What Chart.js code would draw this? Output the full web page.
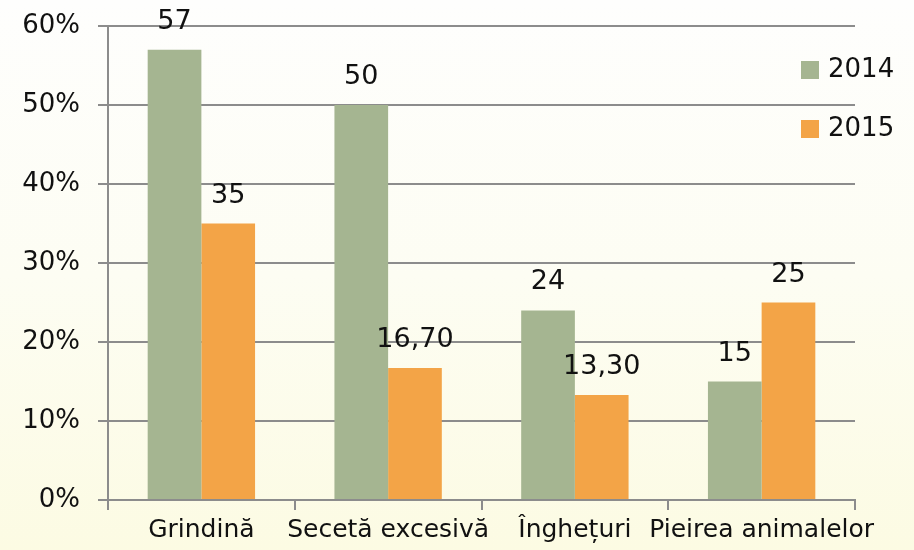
<!DOCTYPE html>
<html>
<head>
<meta charset="utf-8">
<script src="https://cdn.jsdelivr.net/npm/chart.js@4"></script>
<style>
  html, body { margin: 0; padding: 0; }
  body {
    width: 914px; height: 550px; overflow: hidden;
    background: linear-gradient(to bottom, #fefefd 0%, #fdfdf3 50%, #fcfbe3 100%);
  }
  #wrap { position: relative; width: 914px; height: 550px; }
</style>
</head>
<body>
<div id="wrap"><canvas id="riskChart"></canvas></div>
<script>
var categories = ["Grindină", "Secetă excesivă", "Înghețuri", "Pieirea animalelor"];
var values2014 = [57, 50, 24, 15];
var values2015 = [35, 16.7, 13.3, 25];
var labels2014 = ["57", "50", "24", "15"];
var labels2015 = ["35", "16,70", "13,30", "25"];
var seriesNames = ["2014", "2015"];
var yTicks = [0, 10, 20, 30, 40, 50, 60];

var fontFamily = "'DejaVu Sans', sans-serif";
var gridColor = "#8c8c8c";
var colors = ["#a5b591", "#f3a447"];

// value labels above the bars
var barLabels = {
    id: "barLabels",
    afterDatasetsDraw: function (chart) {
        var ctx = chart.ctx;
        var texts = [labels2014, labels2015];
        ctx.save();
        ctx.font = "27px " + fontFamily;
        ctx.fillStyle = "#111";
        ctx.textAlign = "center";
        ctx.textBaseline = "alphabetic";
        chart.data.datasets.forEach(function (ds, di) {
            var meta = chart.getDatasetMeta(di);
            meta.data.forEach(function (bar, i) {
                ctx.fillText(texts[di][i], bar.x, bar.y - 21);
            });
        });
        ctx.restore();
    }
};

// legend on the right side, over the plot
var sideLegend = {
    id: "sideLegend",
    afterDraw: function (chart) {
        var ctx = chart.ctx;
        ctx.save();
        ctx.font = "26px " + fontFamily;
        ctx.textBaseline = "middle";
        ctx.textAlign = "left";
        seriesNames.forEach(function (name, i) {
            var y = 61 + i * 59;
            ctx.fillStyle = colors[i];
            ctx.fillRect(801, y, 18, 18);
            ctx.fillStyle = "#111";
            ctx.fillText(name, 828, y + 9);
        });
        ctx.restore();
    }
};

var data = {
    labels: categories,
    datasets: [
        {
            label: seriesNames[0],
            data: values2014,
            backgroundColor: colors[0],
            barPercentage: 1,
            categoryPercentage: 0.575
        },
        {
            label: seriesNames[1],
            data: values2015,
            backgroundColor: colors[1],
            barPercentage: 1,
            categoryPercentage: 0.575
        }
    ]
};

var options = {
    responsive: false,
    animation: false,
    layout: { padding: { top: 26, right: 59, left: 0, bottom: 0 } },
    plugins: {
        legend: { display: false },
        tooltip: { enabled: false }
    },
    scales: {
        x: {
            grid: {
                display: true,
                drawOnChartArea: false,
                drawTicks: true,
                tickLength: 10,
                color: gridColor,
                lineWidth: 2
            },
            border: { display: true, color: gridColor, width: 2 },
            ticks: {
                color: "#111",
                font: { family: fontFamily, size: 25 },
                padding: 5,
                maxRotation: 0,
                autoSkip: false
            },
            afterFit: function (scale) {
                scale.height = 50;
                scale.paddingLeft = 0;
                scale.paddingRight = 0;
            }
        },
        y: {
            min: 0,
            max: 60,
            afterBuildTicks: function (scale) {
                scale.ticks = yTicks.map(function (v) { return { value: v }; });
            },
            grid: {
                color: gridColor,
                lineWidth: 2,
                tickLength: 10
            },
            border: { display: true, color: gridColor, width: 2 },
            ticks: {
                color: "#111",
                font: { family: fontFamily, size: 26 },
                padding: 18,
                callback: function (v) { return v + "%"; }
            },
            afterFit: function (scale) {
                scale.width = 108;
                scale.paddingTop = 0;
                scale.paddingBottom = 0;
            }
        }
    }
};

var canvas = document.getElementById("riskChart");
canvas.width = 914;
canvas.height = 550;
var ctx = canvas.getContext("2d");
var riskChart = new Chart(ctx, {
    type: "bar",
    data: data,
    options: options,
    plugins: [barLabels, sideLegend]
});
</script>
</body>
</html>
